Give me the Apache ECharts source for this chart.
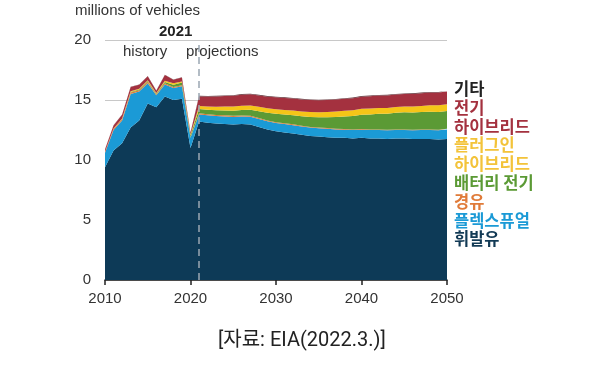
<!DOCTYPE html>
<html><head><meta charset="utf-8">
<script src="https://cdn.jsdelivr.net/npm/echarts@6/dist/echarts.min.js"></script>
<style>html,body{margin:0;padding:0;background:#fff}#c{width:600px;height:366px}</style>
</head><body><div id="c"></div>
<script>
const years = ['2010','2011','2012','2013','2014','2015','2016','2017','2018','2019','2020',
  '2021','2022','2023','2024','2025','2026','2027','2028','2029','2030',
  '2031','2032','2033','2034','2035','2036','2037','2038','2039','2040',
  '2041','2042','2043','2044','2045','2046','2047','2048','2049','2050'];
const gasoline = [9.4,10.8,11.4,12.7,13.3,14.7,14.4,15.3,15.0,15.1,11.0,
  13.2,13.1,13.05,13.0,12.95,13.0,12.95,12.75,12.55,12.4,
  12.3,12.2,12.1,12.0,11.95,11.9,11.85,11.85,11.8,11.85,
  11.8,11.8,11.75,11.8,11.8,11.75,11.75,11.75,11.7,11.75];
const flexFuel = [1.2,1.7,1.9,2.8,2.4,1.7,1.0,1.0,1.0,1.05,0.85,
  0.6,0.62,0.62,0.63,0.64,0.63,0.65,0.66,0.68,0.68,
  0.69,0.7,0.7,0.7,0.7,0.7,0.7,0.68,0.7,0.68,
  0.7,0.7,0.72,0.7,0.7,0.72,0.74,0.75,0.78,0.8];
const diesel = [0.08,0.1,0.1,0.12,0.12,0.12,0.05,0.1,0.08,0.08,0.05,
  0.1,0.1,0.09,0.09,0.09,0.08,0.08,0.08,0.07,0.07,
  0.07,0.07,0.06,0.06,0.06,0.06,0.06,0.05,0.05,0.05,
  0.05,0.05,0.05,0.05,0.05,0.05,0.05,0.05,0.05,0.05];
const batteryElectric = [0,0.01,0.02,0.05,0.06,0.07,0.08,0.1,0.2,0.22,0.15,
  0.35,0.36,0.38,0.4,0.42,0.45,0.5,0.57,0.64,0.7,
  0.73,0.76,0.79,0.82,0.85,0.9,0.98,1.05,1.12,1.2,
  1.25,1.3,1.34,1.38,1.42,1.44,1.45,1.47,1.48,1.48];
const plugInHybrid = [0,0.01,0.04,0.05,0.06,0.05,0.05,0.1,0.12,0.1,0.08,
  0.25,0.28,0.3,0.33,0.35,0.36,0.36,0.37,0.37,0.37,
  0.38,0.39,0.4,0.41,0.42,0.44,0.45,0.47,0.48,0.5,
  0.5,0.49,0.48,0.48,0.48,0.5,0.52,0.54,0.55,0.56];
const hybridElectric = [0.2,0.26,0.32,0.36,0.34,0.34,0.2,0.48,0.28,0.33,0.15,
  0.8,0.83,0.86,0.88,0.9,0.92,0.93,0.95,0.97,1.0,
  1.0,1.0,1.0,1.0,1.0,1.0,1.0,1.0,1.0,1.0,
  1.02,1.03,1.04,1.05,1.05,1.05,1.06,1.06,1.06,1.06];
const other = [0.02,0.02,0.02,0.02,0.02,0.02,0.02,0.02,0.02,0.02,0.02,
  0.05,0.05,0.05,0.05,0.05,0.05,0.05,0.05,0.05,0.05,
  0.05,0.05,0.05,0.05,0.05,0.05,0.05,0.05,0.05,0.05,
  0.05,0.05,0.05,0.05,0.05,0.05,0.05,0.05,0.05,0.05];
const yTicks = [0,5,10,15,20];
const xTicks = ['2010','2020','2030','2040','2050'];
const projectionStart = '2021';

const seriesDefs = [
  {name:'휘발유', data:gasoline, color:'#0d3a57'},
  {name:'플렉스퓨얼', data:flexFuel, color:'#1b9ad6'},
  {name:'경유', data:diesel, color:'#e07b39'},
  {name:'배터리 전기', data:batteryElectric, color:'#5b9a35'},
  {name:'플러그인 하이브리드', data:plugInHybrid, color:'#f5c518'},
  {name:'전기 하이브리드', data:hybridElectric, color:'#a4313f'},
  {name:'기타', data:other, color:'#5a2a30'}
];

const series = seriesDefs.map(s => ({
  name: s.name,
  type: 'line',
  stack: 'total',
  data: s.data,
  showSymbol: false,
  lineStyle: {width: 0},
  areaStyle: {color: s.color, opacity: 1},
  itemStyle: {color: s.color},
  z: 2,
  silent: true
}));
series[series.length - 1].markLine = {
  silent: true,
  symbol: 'none',
  label: {show: false},
  lineStyle: {type: [7, 5], color: '#9aa6b2', width: 1.5},
  data: [{xAxis: projectionStart}],
  z: 10
};

const legendItems = [
  {t:'기타', c:'#222222', y:80},
  {t:'전기', c:'#a4313f', y:99},
  {t:'하이브리드', c:'#a4313f', y:118},
  {t:'플러그인', c:'#f3c33a', y:136},
  {t:'하이브리드', c:'#f3c33a', y:155},
  {t:'배터리 전기', c:'#5b9a35', y:174},
  {t:'경유', c:'#e07b39', y:193},
  {t:'플렉스퓨얼', c:'#1b9ad6', y:212},
  {t:'휘발유', c:'#123a55', y:230}
];

const tickFilter = (idx, val) => xTicks.includes(val);

const chart = echarts.init(document.getElementById('c'));
chart.setOption({
  animation: false,
  backgroundColor: '#ffffff',
  grid: {left: 105, right: 153, top: 40, bottom: 86, containLabel: false},
  xAxis: {
    type: 'category', data: years, boundaryGap: false,
    axisLine: {show: true, lineStyle: {color: '#222', width: 1.5}},
    axisTick: {show: true, length: 5, interval: tickFilter, lineStyle: {color: '#222', width: 1.5}},
    splitLine: {show: false},
    axisLabel: {color: '#333', fontSize: 15, fontFamily: 'Liberation Sans, Arial, sans-serif', margin: 11,
      interval: tickFilter}
  },
  yAxis: {
    type: 'value', min: 0, max: 20, interval: 5,
    axisLine: {show: false}, axisTick: {show: false},
    splitLine: {show: true, lineStyle: {color: '#c8c8c8', width: 1}},
    axisLabel: {color: '#333', fontSize: 15, fontFamily: 'Liberation Sans, Arial, sans-serif', margin: 14,
      formatter: v => yTicks.includes(v) ? String(v) : ''}
  },
  series: series,
  graphic: [
    {type:'text', left: 75, top: 3, style:{text:'millions of vehicles', fill:'#333', font:'15px "Liberation Sans", Arial, sans-serif'}},
    {type:'text', left: 159, top: 24, style:{text:'2021', fill:'#222', font:'bold 15px "Liberation Sans", Arial, sans-serif'}},
    {type:'text', left: 123, top: 44, style:{text:'history', fill:'#333', font:'15px "Liberation Sans", Arial, sans-serif'}},
    {type:'text', left: 186, top: 44, style:{text:'projections', fill:'#333', font:'15px "Liberation Sans", Arial, sans-serif'}},
    {type:'text', left: 218, top: 331, style:{text:'[자료: EIA(2022.3.)]', fill:'#222', font:'20px Roboto, "Noto Sans CJK KR", sans-serif'}},
    ...legendItems.map(it => ({type:'text', left: 454, top: it.y, style:{text: it.t, fill: it.c, font:'bold 16.5px "Noto Sans CJK KR", sans-serif'}}))
  ]
});
</script>
</body></html>
